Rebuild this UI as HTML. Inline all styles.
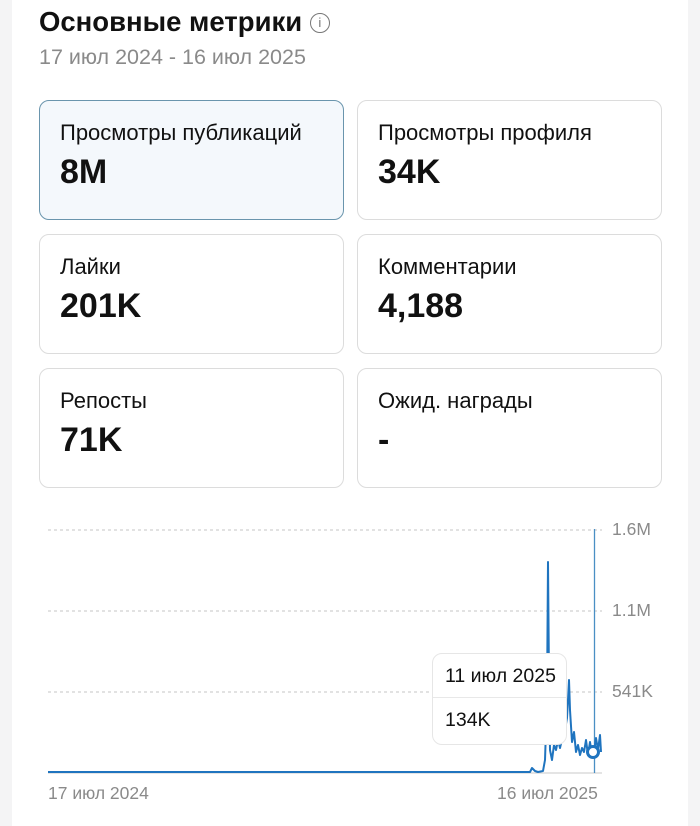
<!DOCTYPE html>
<html><head><meta charset="utf-8"><style>
body{margin:0;width:700px;height:826px;background:#fff;font-family:"Liberation Sans",sans-serif;position:relative;overflow:hidden}
.strip{position:absolute;top:0;bottom:0;width:12px;background:#f4f4f5}
h1{position:absolute;left:39px;top:6px;margin:0;font-size:27.5px;font-weight:bold;color:#111;white-space:nowrap}
.sub{position:absolute;left:39px;top:45px;font-size:21.5px;color:#8a8a8a;white-space:nowrap}
.card{position:absolute;width:305px;height:120px;border:1px solid #dcdcdc;border-radius:10px;box-sizing:border-box;background:#fff}
.card.sel{background:#f4f8fc;border-color:#6a95ad}
.card .l{position:absolute;left:20px;top:19px;font-size:22px;color:#111;white-space:nowrap}
.card .v{position:absolute;left:20px;top:52px;font-size:34px;font-weight:bold;color:#111}
.ax{position:absolute;font-size:17.5px;color:#8a8a8a;white-space:nowrap}
.tip{position:absolute;left:432px;top:653px;width:135px;height:92px;background:#fff;border:1px solid #e6e6e6;border-radius:10px;box-sizing:border-box}
.tip div{position:absolute;left:12px;font-size:19.5px;color:#111;white-space:nowrap}
</style></head><body>
<div class="strip" style="left:0"></div><div class="strip" style="right:0"></div>
<h1>Основные метрики <span style="display:inline-block;width:18px;height:18px;border:1.5px solid #777;border-radius:50%;font-size:13px;font-weight:normal;text-align:center;line-height:18px;color:#777;vertical-align:4px">i</span></h1>
<div class="sub">17 июл 2024 - 16 июл 2025</div>
<div class="card sel" style="left:39px;top:100px"><div class="l">Просмотры публикаций</div><div class="v">8M</div></div>
<div class="card" style="left:357px;top:100px"><div class="l">Просмотры профиля</div><div class="v">34K</div></div>
<div class="card" style="left:39px;top:234px"><div class="l">Лайки</div><div class="v">201K</div></div>
<div class="card" style="left:357px;top:234px"><div class="l">Комментарии</div><div class="v">4,188</div></div>
<div class="card" style="left:39px;top:368px"><div class="l">Репосты</div><div class="v">71K</div></div>
<div class="card" style="left:357px;top:368px"><div class="l">Ожид. награды</div><div class="v">-</div></div>
<svg style="position:absolute;left:0;top:0" width="700" height="826">
<g stroke="#c4c4c4" stroke-dasharray="3,3" stroke-width="1">
<line x1="48" y1="530" x2="602" y2="530"/><line x1="48" y1="611" x2="602" y2="611"/><line x1="48" y1="692" x2="602" y2="692"/></g>
<line x1="48" y1="773" x2="602" y2="773" stroke="#c8c8c8"/>
<line x1="594.5" y1="529" x2="594.5" y2="773" stroke="#4a8fc4" stroke-width="1.3"/>
<polyline fill="none" stroke="#1f74bf" stroke-width="2" stroke-linejoin="round" points="48,772 530,772 532,768 535,771 538,772 543,771 545,760 547,700 548,562 549,680 550,750 552,760 554,745 556,750 558,740 560,748 563,735 565,730 567,718 568,700 569,680 570,710 572,742 574,732 576,752 578,745 580,755 582,748 584,752 586,740 588,755 590,742 592,755 594,752 596,738 598,750 600,735 601,752"/>
<circle cx="593" cy="752" r="5.5" fill="#fff" stroke="#1f74bf" stroke-width="3"/>
</svg>
<div class="tip"><div style="top:11px">11 июл 2025</div><div style="top:55px">134K</div><div style="position:absolute;left:0;right:0;top:43px;height:1px;background:#e8e8e8;padding:0"></div></div>
<div class="ax" style="left:612px;top:519px">1.6M</div>
<div class="ax" style="left:612px;top:600px">1.1M</div>
<div class="ax" style="left:612px;top:681px">541K</div>
<div class="ax" style="left:48px;top:783px">17 июл 2024</div>
<div class="ax" style="left:497px;top:783px">16 июл 2025</div>
</body></html>
